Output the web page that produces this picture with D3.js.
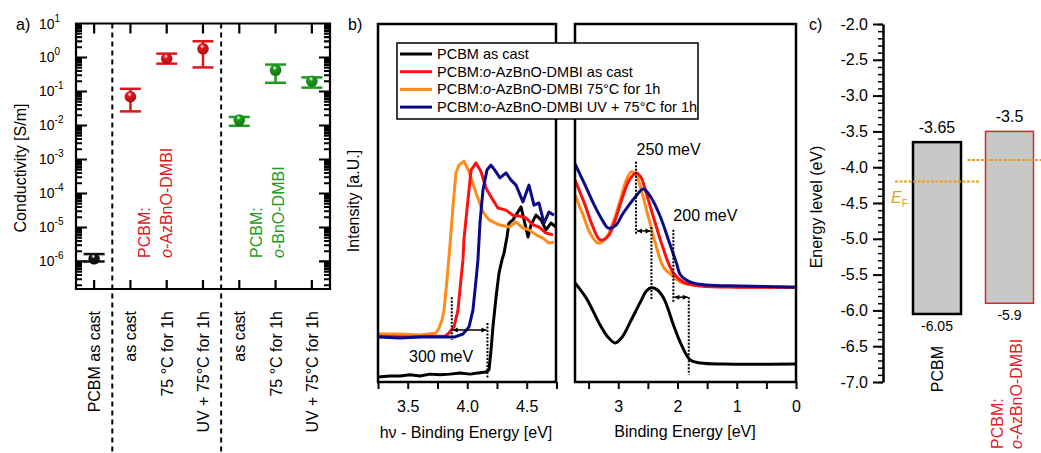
<!DOCTYPE html>
<html>
<head>
<meta charset="utf-8">
<script src="https://cdn.jsdelivr.net/npm/d3@7"></script>
<style>
  body { margin: 0; background: #fff; }
  svg { font-family: "Liberation Sans", Arial, sans-serif; }
</style>
</head>
<body>
<svg id="fig" width="1041" height="453"></svg>
<script>
// ---------- panel a: conductivity
const condLabels = ["PCBM as cast", "as cast", "75 °C for 1h", "UV + 75°C for 1h", "as cast", "75 °C for 1h", "UV + 75°C for 1h"];
const condGroup = [0, 1, 1, 1, 2, 2, 2];
const condValues = [1.2e-6, 0.07, 0.93, 1.8, 0.0144, 0.42, 0.2];
const condHigh = [1.65e-6, 0.12, 1.3, 3.0, 0.0178, 0.62, 0.26];
const condLow = [1.0e-6, 0.026, 0.66, 0.51, 0.0098, 0.18, 0.13];
const groupColors = ["#111111", "#e0161d", "#1c9a1c"];
const groupNames = [null, "o-AzBnO-DMBI", "o-BnO-DMBI"];

// ---------- panel b: UPS spectra, [energy eV, intensity a.u.]
const secoBlack = [[3.25,1.4],[3.351,1.7],[3.435,1.7],[3.519,2.0],[3.603,1.7],[3.687,2.2],[3.771,2.0],[3.855,2.2],[3.939,2.5],[4.023,2.2],[4.09,2.5],[4.158,2.8],[4.183,3.4],[4.2,8.9],[4.216,15.4],[4.242,23.7],[4.267,30.4],[4.292,34.1],[4.309,36.0],[4.334,40.5],[4.351,44.4],[4.384,45.3],[4.426,47.5],[4.452,48.9],[4.477,45.3],[4.511,40.5],[4.536,43.9],[4.578,46.6],[4.62,45.3],[4.662,42.5],[4.704,44.4],[4.746,43.3]];
const secoRed = [[3.25,12.8],[3.519,12.6],[3.687,12.8],[3.813,12.8],[3.838,13.4],[3.889,15.4],[3.922,20.1],[3.947,28.5],[3.964,34.1],[3.972,39.7],[4.006,50.8],[4.032,59.2],[4.074,61.2],[4.116,58.7],[4.158,54.2],[4.2,51.7],[4.258,48.6],[4.326,48.0],[4.384,46.6],[4.435,46.4],[4.494,45.8],[4.553,43.9],[4.603,43.3],[4.662,41.6],[4.721,41.1]];
const secoOrange = [[3.25,13.4],[3.435,13.4],[3.603,13.1],[3.737,13.7],[3.763,15.1],[3.788,17.3],[3.805,20.1],[3.83,28.5],[3.855,38.3],[3.88,48.9],[3.905,58.4],[3.931,60.6],[3.973,61.7],[4.015,58.7],[4.074,52.8],[4.132,47.5],[4.183,45.3],[4.267,43.9],[4.351,43.3],[4.41,44.7],[4.468,43.0],[4.519,42.5],[4.578,41.1],[4.637,40.2],[4.687,38.8],[4.729,39.1]];
const secoBlue = [[3.25,12.6],[3.435,12.3],[3.603,12.6],[3.771,12.6],[3.897,12.6],[3.964,13.4],[4.015,15.4],[4.048,20.1],[4.074,28.5],[4.09,34.1],[4.107,44.4],[4.132,53.6],[4.166,59.2],[4.2,60.6],[4.242,58.7],[4.275,57.0],[4.326,58.4],[4.368,56.4],[4.41,55.0],[4.468,50.3],[4.519,55.0],[4.561,49.4],[4.603,50.0],[4.645,44.4],[4.687,47.5],[4.729,46.6]];

const vbBlack = [[3.729,27.7],[3.542,23.5],[3.424,19.8],[3.305,15.9],[3.186,12.8],[3.051,10.9],[2.932,12.6],[2.797,16.8],[2.627,22.3],[2.525,25.4],[2.441,26.3],[2.339,25.7],[2.237,23.5],[2.153,20.1],[2.068,15.9],[1.932,10.3],[1.78,6.1],[1.61,5.3],[1.22,5.0],[0,5.0]];
const vbRed = [[3.729,56.4],[3.559,49.4],[3.441,43.9],[3.305,39.7],[3.169,40.8],[3.051,45.3],[2.932,51.4],[2.814,56.4],[2.695,58.4],[2.61,57.0],[2.542,53.6],[2.407,46.1],[2.271,38.8],[2.153,33.2],[2.068,30.4],[1.898,27.9],[1.61,26.8],[0.932,26.5],[0,26.5]];
const vbOrange = [[3.729,52.2],[3.593,46.6],[3.475,41.6],[3.339,38.8],[3.203,40.2],[3.085,44.7],[2.966,50.8],[2.864,56.4],[2.78,58.7],[2.695,57.8],[2.627,54.5],[2.492,46.1],[2.356,37.7],[2.237,32.1],[2.102,29.9],[1.949,27.9],[1.729,27.1],[1.441,26.8],[0.932,26.5],[0,26.5]];
const vbBlue = [[3.729,60.9],[3.559,55.0],[3.39,48.9],[3.271,45.3],[3.169,43.0],[3.051,43.6],[2.915,47.2],[2.712,51.7],[2.576,53.9],[2.441,51.4],[2.288,46.1],[2.153,39.7],[2.017,33.2],[1.949,29.9],[1.78,27.9],[1.508,27.1],[0.932,26.8],[0,26.5]];

const upsNames = ["PCBM as cast", "as cast", "75°C for 1h", "UV + 75°C for 1h"];
const upsColors = ["#000000", "#ff1010", "#ff8c1a", "#0b0b8a"];

// onsets used for the shift annotations (eV)
const secoOnsets = [3.87, 4.17];
const homoPeaks = [2.70, 2.44];
const homoOnsets = [2.07, 1.81];

// ---------- panel c: energy levels
const levelNames = ["PCBM", "PCBM:o-AzBnO-DMBI"];
const lumo = [-3.65, -3.5];
const homo = [-6.05, -5.9];
const fermi = [-4.2, -3.9];
const levelColors = ["#000000", "#d9262b"];

const svg = d3.select("#fig");
svg.append("rect").attr("width", 1041).attr("height", 453).attr("fill", "#fff");
const defs = svg.append("defs");

// ======================= panel a
const xA = d3.scaleLinear().domain([-0.5, 6.5]).range([76, 330]);
const yA = d3.scaleLog().domain([1.55e-7, 10]).range([289, 23.5]);
const gA = svg.append("g");

groupColors.forEach((c, i) => {
  const gr = defs.append("radialGradient").attr("id", "ball" + i)
    .attr("cx", "45%").attr("cy", "35%").attr("r", "65%").attr("fx", "42%").attr("fy", "28%");
  gr.append("stop").attr("offset", "0%").attr("stop-color", "#fff");
  gr.append("stop").attr("offset", "30%").attr("stop-color", c);
  gr.append("stop").attr("offset", "100%").attr("stop-color", d3.color(c).darker(0.8));
});

const majors = d3.range(-6, 2).map(k => Math.pow(10, k));
const minors = [];
for (let k = -7; k <= 0; k++) {
  for (let m = 2; m <= 9; m++) {
    const v = m * Math.pow(10, k);
    if (v > yA.domain()[0] && v < 10) minors.push(v);
  }
}
const [xa0, xa1] = xA.range();
const [ya0, ya1] = yA.range();

// frame and inward ticks as one stroked path
const frame = d3.path();
frame.rect(xa0, ya1, xa1 - xa0, ya0 - ya1);
majors.forEach(v => {
  frame.moveTo(xa0, yA(v)); frame.lineTo(xa0 + 11, yA(v));
  frame.moveTo(xa1, yA(v)); frame.lineTo(xa1 - 11, yA(v));
});
minors.forEach(v => {
  frame.moveTo(xa0, yA(v)); frame.lineTo(xa0 + 6, yA(v));
  frame.moveTo(xa1, yA(v)); frame.lineTo(xa1 - 6, yA(v));
});
d3.range(7).forEach(i => {
  frame.moveTo(xA(i), ya0); frame.lineTo(xA(i), ya0 - 9);
  frame.moveTo(xA(i), ya1); frame.lineTo(xA(i), ya1 + 10);
});
gA.append("path").attr("d", frame.toString()).attr("fill", "none")
  .attr("stroke", "#000").attr("stroke-width", 2.2);

// decade labels
majors.forEach(v => {
  const k = Math.round(Math.log10(v));
  const t = gA.append("text").attr("x", 39).attr("y", yA(v) + 5).attr("font-size", 14);
  t.append("tspan").text("10");
  t.append("tspan").attr("dy", -7).attr("font-size", 10).text(k);
});

// separators
[0.5, 3.5].forEach(s => {
  gA.append("line").attr("x1", xA(s)).attr("x2", xA(s)).attr("y1", ya1).attr("y2", 453)
    .attr("stroke", "#000").attr("stroke-width", 2).attr("stroke-dasharray", "5,4");
});

// error bars + balls
condValues.forEach((v, i) => {
  const x = xA(i), c = groupColors[condGroup[i]];
  const g = gA.append("g").attr("stroke", c).attr("stroke-width", 2.5);
  g.append("line").attr("x1", x).attr("x2", x).attr("y1", yA(condLow[i])).attr("y2", yA(condHigh[i]));
  [condLow[i], condHigh[i]].forEach(e => {
    g.append("line").attr("x1", x - 10.5).attr("x2", x + 10.5).attr("y1", yA(e)).attr("y2", yA(e));
  });
  gA.append("circle").attr("cx", x).attr("cy", yA(v)).attr("r", 5.8)
    .attr("fill", "url(#ball" + condGroup[i] + ")");
});

// category labels
condLabels.forEach((l, i) => {
  gA.append("text").attr("transform", `translate(${xA(i) + 6},311) rotate(-90)`)
    .attr("text-anchor", "end").attr("font-size", 16).text(l);
});

// group labels
[1, 2].forEach(gi => {
  const idx = condGroup.indexOf(gi);
  const x0 = xA(idx) + (gi === 1 ? 20 : 23);
  const c = groupColors[gi];
  gA.append("text").attr("transform", `translate(${x0},258) rotate(-90)`)
    .attr("font-size", 16).attr("fill", c).text("PCBM:");
  const t = gA.append("text").attr("transform", `translate(${x0 + 21.5},258) rotate(-90)`)
    .attr("font-size", 16).attr("fill", c);
  t.append("tspan").attr("font-style", "italic").text("o");
  t.append("tspan").text(groupNames[gi].slice(1));
});

gA.append("text").attr("transform", "translate(26,168) rotate(-90)").attr("text-anchor", "middle")
  .attr("font-size", 16).text("Conductivity [S/m]");
gA.append("text").attr("x", 16).attr("y", 30).attr("font-size", 16).text("a)");

// ======================= panel b
const yB = d3.scaleLinear().domain([0, 100]).range([382, 24]);
const xL = d3.scaleLinear().domain([3.25, 4.746]).range([378, 556]);
const xR = d3.scaleLinear().domain([3.73, 0]).range([575, 796]);
const gB = svg.append("g");

defs.append("clipPath").attr("id", "clipL").append("rect")
  .attr("x", 378).attr("y", 24).attr("width", 178).attr("height", 358);
defs.append("clipPath").attr("id", "clipR").append("rect")
  .attr("x", 575).attr("y", 24).attr("width", 221).attr("height", 358);

const lineL = d3.line().x(d => xL(d[0])).y(d => yB(d[1]));
const lineR = d3.line().x(d => xR(d[0])).y(d => yB(d[1])).curve(d3.curveCatmullRom.alpha(0.5));

const seco = [secoBlack, secoOrange, secoRed, secoBlue];
const vb = [vbBlack, vbOrange, vbRed, vbBlue];
const drawColors = [upsColors[0], upsColors[2], upsColors[1], upsColors[3]];
seco.forEach((s, i) => {
  gB.append("path").attr("clip-path", "url(#clipL)").attr("d", lineL(s))
    .attr("fill", "none").attr("stroke", drawColors[i]).attr("stroke-width", 3).attr("stroke-linejoin", "round");
});
vb.forEach((s, i) => {
  gB.append("path").attr("clip-path", "url(#clipR)").attr("d", lineR(s))
    .attr("fill", "none").attr("stroke", drawColors[i]).attr("stroke-width", 3);
});

// axes
const axL = gB.append("g").attr("transform", "translate(0,382)")
  .call(d3.axisBottom(xL).tickValues(d3.range(3.25, 4.76, 0.25)).tickSize(7).tickPadding(12)
    .tickFormat(d => (Math.abs(d * 2 - Math.round(d * 2)) < 1e-6 ? d.toFixed(1) : "")));
const axR = gB.append("g").attr("transform", "translate(0,382)")
  .call(d3.axisBottom(xR).tickValues(d3.range(0, 3.6, 0.5)).tickSize(7).tickPadding(12)
    .tickFormat(d => (Number.isInteger(d) ? String(d) : "")));
[axL, axR].forEach(a => {
  a.select(".domain").remove();
  a.selectAll(".tick line").attr("stroke", "#000").attr("stroke-width", 2);
  a.selectAll("text").attr("font-size", 16).attr("fill", "#000").attr("font-family", null);
});

gB.append("rect").attr("x", 378).attr("y", 24).attr("width", 178).attr("height", 358)
  .attr("fill", "none").attr("stroke", "#000").attr("stroke-width", 2.5);
gB.append("rect").attr("x", 575).attr("y", 24).attr("width", 221).attr("height", 358)
  .attr("fill", "none").attr("stroke", "#000").attr("stroke-width", 2.5);

// annotations: dotted guides and double arrows
function dotted(x, y1, y2) {
  gB.append("line").attr("x1", x).attr("x2", x).attr("y1", y1).attr("y2", y2)
    .attr("stroke", "#000").attr("stroke-width", 2).attr("stroke-dasharray", "2,1.5");
}
function arrow(x1, x2, y) {
  const a = Math.min(x1, x2) + 1, b = Math.max(x1, x2) - 1;
  gB.append("line").attr("x1", a).attr("x2", b).attr("y1", y).attr("y2", y)
    .attr("stroke", "#000").attr("stroke-width", 1.5);
  gB.append("path").attr("fill", "#000")
    .attr("d", `M${a},${y}l5,-2.5v5z M${b},${y}l-5,-2.5v5z`);
}
dotted(xL(secoOnsets[0]), yB(23.7), yB(11.7));
dotted(xL(secoOnsets[1]), yB(16.5), yB(1.1));
arrow(xL(secoOnsets[0]), xL(secoOnsets[1]), yB(14.5));
gB.append("text").attr("x", xL(3.78)).attr("y", yB(5.6)).attr("text-anchor", "middle")
  .attr("font-size", 16).text("300 meV");

dotted(xR(homoPeaks[0]), yB(61.5), yB(41.1));
dotted(xR(homoPeaks[1]), yB(43.3), yB(22.9));
arrow(xR(homoPeaks[0]), xR(homoPeaks[1]), yB(42.2));
gB.append("text").attr("x", xR(2.69)).attr("y", yB(63.4)).attr("font-size", 16).text("250 meV");
dotted(xR(homoOnsets[0]), yB(42.5), yB(22.3));
dotted(xR(homoOnsets[1]), yB(23.7), yB(2.0));
arrow(xR(homoOnsets[0]), xR(homoOnsets[1]), yB(23.7));
gB.append("text").attr("x", xR(2.07)).attr("y", yB(45)).attr("font-size", 16).text("200 meV");

// legend
const leg = gB.append("g");
leg.append("rect").attr("x", 397).attr("y", 43).attr("width", 301).attr("height", 76)
  .attr("fill", "#fff").attr("stroke", "#000").attr("stroke-width", 1.5);
upsNames.forEach((n, i) => {
  const y = 54 + i * 17.7;
  leg.append("line").attr("x1", 400).attr("x2", 432).attr("y1", y).attr("y2", y)
    .attr("stroke", upsColors[i]).attr("stroke-width", 3);
  const t = leg.append("text").attr("x", 437).attr("y", y + 5).attr("font-size", 14.5);
  if (i === 0) { t.text(n); return; }
  t.append("tspan").text("PCBM:");
  t.append("tspan").attr("font-style", "italic").text("o");
  t.append("tspan").text("-AzBnO-DMBI " + n);
});

gB.append("text").attr("x", 466).attr("y", 438).attr("text-anchor", "middle").attr("font-size", 16)
  .text("hν - Binding Energy [eV]");
gB.append("text").attr("x", 685).attr("y", 437).attr("text-anchor", "middle").attr("font-size", 16)
  .text("Binding Energy [eV]");
gB.append("text").attr("transform", "translate(359,201) rotate(-90)").attr("text-anchor", "middle")
  .attr("font-size", 16).text("Intensity [a.U.]");
gB.append("text").attr("x", 348).attr("y", 30).attr("font-size", 16).text("b)");

// ======================= panel c
const yC = d3.scaleLinear().domain([-7, -2]).range([382, 24]);
const xC = d3.scalePoint().domain(levelNames).range([937, 1009.5]);
const barW = 48;
const gC = svg.append("g");

const axC = gC.append("g").attr("transform", "translate(883,0)")
  .call(d3.axisLeft(yC).tickValues(d3.range(-7, -1.99, 0.5)).tickSize(10).tickSizeOuter(0)
    .tickPadding(5).tickFormat(d => d.toFixed(1)));
gC.append("g").attr("transform", "translate(883,0)")
  .call(d3.axisLeft(yC).tickValues(d3.range(-70, -19).map(d => d / 10)).tickSize(5).tickFormat(""))
  .call(g => g.select(".domain").remove())
  .selectAll(".tick line").attr("stroke", "#000").attr("stroke-width", 1.5);
axC.select(".domain").attr("stroke", "#000").attr("stroke-width", 2.5);
axC.selectAll(".tick line").attr("stroke", "#000").attr("stroke-width", 2);
axC.selectAll("text").attr("font-size", 16).attr("fill", "#000").attr("font-family", null);

levelNames.forEach((n, i) => {
  const cx = xC(n);
  gC.append("rect").attr("x", cx - barW / 2).attr("y", yC(lumo[i]))
    .attr("width", barW).attr("height", yC(homo[i]) - yC(lumo[i]))
    .attr("fill", "#c8c8c8").attr("stroke", levelColors[i]).attr("stroke-width", i === 0 ? 2.5 : 1.5);
  gC.append("text").attr("x", cx).attr("y", yC(lumo[i]) - 9).attr("text-anchor", "middle")
    .attr("font-size", 16).text(String(lumo[i]));
  gC.append("text").attr("x", cx).attr("y", yC(homo[i]) + 17).attr("text-anchor", "middle")
    .attr("font-size", 14).text(String(homo[i]));
  gC.append("line").attr("x1", cx - 42).attr("x2", cx + 42).attr("y1", yC(fermi[i])).attr("y2", yC(fermi[i]))
    .attr("stroke", "#e6a11b").attr("stroke-width", 2).attr("stroke-dasharray", "3,1.5");
});

gC.append("text").attr("transform", `translate(${xC(levelNames[0]) + 6},346) rotate(-90)`)
  .attr("text-anchor", "end").attr("font-size", 16).text("PCBM");
const cx2 = xC(levelNames[1]);
gC.append("text").attr("transform", `translate(${cx2 - 7},449) rotate(-90)`)
  .attr("font-size", 16).attr("fill", "#e0202a").text("PCBM:");
const t2 = gC.append("text").attr("transform", `translate(${cx2 + 12},449) rotate(-90)`)
  .attr("font-size", 16).attr("fill", "#e0202a");
t2.append("tspan").attr("font-style", "italic").text("o");
t2.append("tspan").text("-AzBnO-DMBI");

const ef = gC.append("text").attr("x", 891).attr("y", 203).attr("font-size", 16).attr("fill", "#e6a11b");
ef.append("tspan").attr("font-style", "italic").text("E");
ef.append("tspan").attr("dy", 4).attr("font-size", 10).text("F");

gC.append("text").attr("transform", "translate(822,207) rotate(-90)").attr("text-anchor", "middle")
  .attr("font-size", 16).text("Energy level (eV)");
gC.append("text").attr("x", 809).attr("y", 30).attr("font-size", 16).text("c)");
</script>
</body>
</html>
